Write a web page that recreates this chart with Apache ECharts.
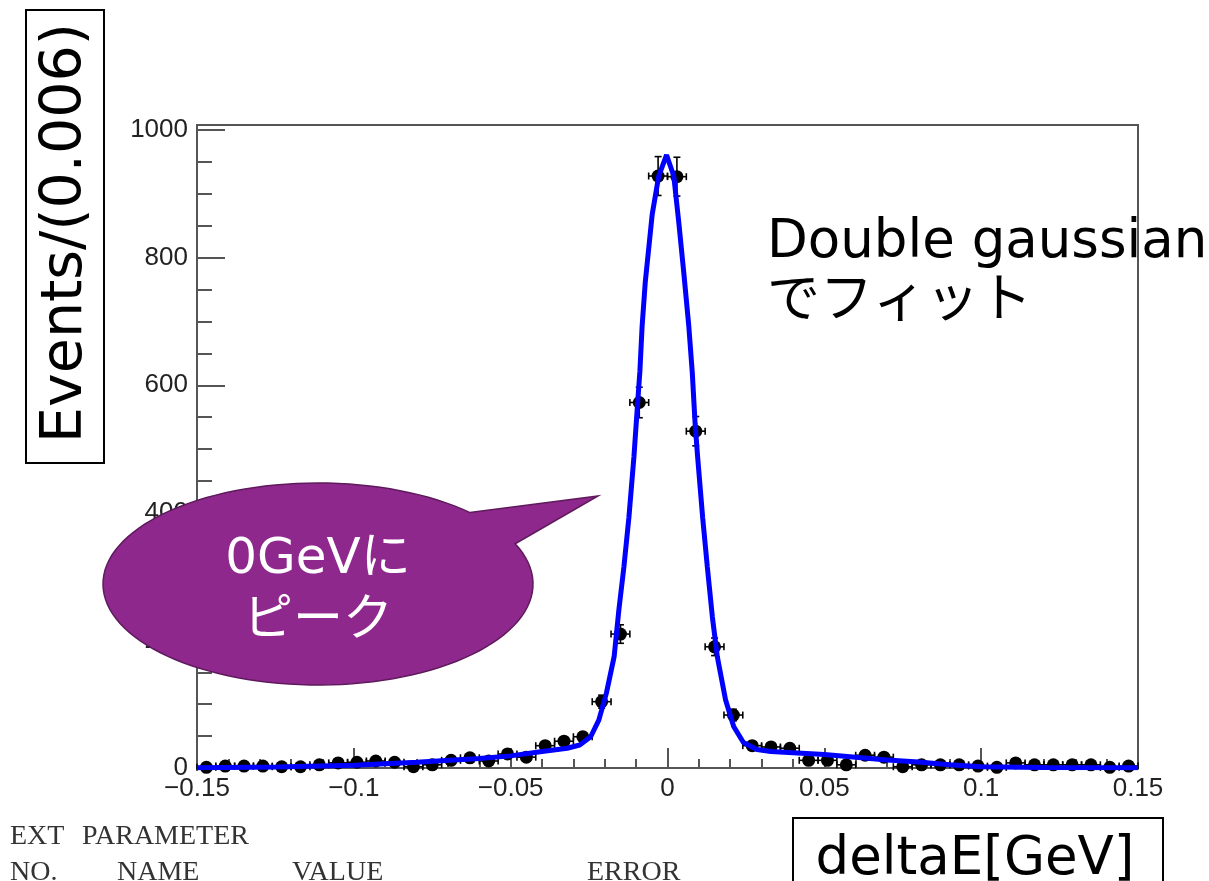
<!DOCTYPE html>
<html>
<head>
<meta charset="utf-8">
<script src="https://cdn.jsdelivr.net/npm/echarts@6/dist/echarts.min.js"></script>
<style>
  html, body { margin: 0; padding: 0; background: #fff; }
  #chart { width: 1209px; height: 881px; }
</style>
</head>
<body>
<div id="chart"></div>
<script>
// deltaE histogram: bin centres (GeV), bin width 0.006
const binCenters = [
  -0.147, -0.141, -0.135, -0.129, -0.123, -0.117, -0.111, -0.105, -0.099, -0.093,
  -0.087, -0.081, -0.075, -0.069, -0.063, -0.057, -0.051, -0.045, -0.039, -0.033,
  -0.027, -0.021, -0.015, -0.009, -0.003, 0.003, 0.009, 0.015, 0.021, 0.027,
  0.033, 0.039, 0.045, 0.051, 0.057, 0.063, 0.069, 0.075, 0.081, 0.087,
  0.093, 0.099, 0.105, 0.111, 0.117, 0.123, 0.129, 0.135, 0.141, 0.147
];
const binHalfWidth = 0.003;
// events per bin
const counts = [
  1, 3, 3, 3, 2, 2, 5, 8, 9, 11,
  9, 2, 5, 12, 16, 11, 22, 17, 35, 42,
  49, 104, 210, 573, 928, 927, 528, 190, 83, 35,
  33, 31, 12, 12, 5, 20, 17, 2, 5, 5,
  5, 3, 1, 8, 5, 5, 5, 5, 1, 3
];

// double gaussian fit curve, sampled along deltaE
const fitX = [
  -0.15, -0.125, -0.1, -0.08, -0.06, -0.05, -0.04, -0.032, -0.028, -0.0245,
  -0.0219, -0.0195, -0.017, -0.0155, -0.0139, -0.0123, -0.0107, -0.0096, -0.0088, -0.0081,
  -0.0071, -0.006, -0.0049, -0.0028, -0.0003, 0.002, 0.0036, 0.0052, 0.0068, 0.0079,
  0.0088, 0.0096, 0.0112, 0.0127, 0.0143, 0.0159, 0.0185, 0.0211, 0.0242, 0.0285,
  0.033, 0.04, 0.05, 0.06, 0.07, 0.08, 0.09, 0.1, 0.12, 0.15
];
const fitY = [
  0.5, 1.5, 4.5, 9, 15, 19, 26, 31, 36, 49,
  75, 117, 175, 248, 315, 393, 488, 567, 622, 692,
  761, 814, 867, 928, 961, 928, 855, 776, 692, 620,
  540, 488, 393, 315, 237, 174, 107, 65, 40, 29,
  26, 24, 21, 17, 12.5, 9.4, 5, 2, 0.8, 0.3
];

const xTicks = { min: -0.15, max: 0.15, step: 0.05 };
const yTicks = { min: 0, max: 1008, step: 200 };

const points = binCenters.map((x, i) => [x, counts[i]]);
const curve = fitX.map((x, i) => [x, fitY[i]]);

const axisGray = '#555';
const labelFont = 'Liberation Sans, Arial, sans-serif';
const bigFont = 'DejaVu Sans, Noto Sans CJK JP, sans-serif';
const tableFont = '28px Liberation Serif, Times New Roman, serif';

function fmtX(v) {
  const r = Math.round(v * 100) / 100;
  if (r === 0) return '0';
  return (r < 0 ? '\u2212' : '') + String(Math.abs(r));
}
function fmtY(v) {
  return String(Math.round(v));
}

// speech bubble outline: ellipse body with a pointed tail
function bubblePoints() {
  const cx = 318, cy = 584, rx = 215, ry = 101;
  const a0 = -23.5 * Math.PI / 180;
  const a1 = (360 - 45) * Math.PI / 180;
  const pts = [];
  const n = 120;
  for (let k = 0; k <= n; k++) {
    const a = a0 + (a1 - a0) * k / n;
    pts.push([cx + rx * Math.cos(a), cy + ry * Math.sin(a)]);
  }
  pts.push([598, 496]);
  return pts;
}

function plainText(x, y, text, font, fill, align) {
  return {
    type: 'text', z: 51, x: x, y: y,
    style: {
      text: text, font: font, fill: fill,
      textAlign: align, textVerticalAlign: 'middle', align: align, verticalAlign: 'middle'
    }
  };
}

const chart = echarts.init(document.getElementById('chart'));
chart.setOption({
  animation: false,
  backgroundColor: '#fff',
  grid: {
    left: 197, right: 71, top: 125, bottom: 113,
    show: true, borderColor: axisGray, borderWidth: 2, backgroundColor: 'transparent'
  },
  xAxis: {
    type: 'value', min: xTicks.min, max: xTicks.max, interval: xTicks.step,
    axisLine: { show: true, onZero: false, lineStyle: { color: axisGray, width: 2 } },
    axisTick: { show: true, inside: true, length: 20, lineStyle: { color: axisGray, width: 2 } },
    minorTick: { show: true, splitNumber: 5, length: 9, lineStyle: { color: axisGray, width: 2 } },
    splitLine: { show: false },
    axisLabel: { margin: 8, fontSize: 26, color: '#222', fontFamily: labelFont, formatter: fmtX }
  },
  yAxis: {
    type: 'value', min: yTicks.min, max: yTicks.max, interval: yTicks.step,
    axisLine: { show: true, onZero: false, lineStyle: { color: axisGray, width: 2 } },
    axisTick: { show: true, inside: true, length: 28, lineStyle: { color: axisGray, width: 2 } },
    minorTick: { show: true, splitNumber: 4, length: 15, lineStyle: { color: axisGray, width: 2 } },
    splitLine: { show: false },
    axisLabel: { margin: 9, fontSize: 26, color: '#222', fontFamily: labelFont, showMaxLabel: false, formatter: fmtY }
  },
  series: [
    {
      // error bars: bin width horizontally, sqrt(N) vertically
      type: 'custom',
      data: points,
      z: 3,
      renderItem: function (params, api) {
        const x = api.value(0), y = api.value(1);
        const err = Math.sqrt(y);
        const l = api.coord([x - binHalfWidth, y]);
        const r = api.coord([x + binHalfWidth, y]);
        const t = api.coord([x, y + err]);
        const b = api.coord([x, y - err]);
        const st = { stroke: '#000', lineWidth: 1.6 };
        const cap = 3.5;
        return {
          type: 'group',
          children: [
            { type: 'line', shape: { x1: l[0], y1: l[1], x2: r[0], y2: r[1] }, style: st },
            { type: 'line', shape: { x1: l[0], y1: l[1] - cap, x2: l[0], y2: l[1] + cap }, style: st },
            { type: 'line', shape: { x1: r[0], y1: r[1] - cap, x2: r[0], y2: r[1] + cap }, style: st },
            { type: 'line', shape: { x1: t[0], y1: t[1], x2: b[0], y2: b[1] }, style: st },
            { type: 'line', shape: { x1: t[0] - cap, y1: t[1], x2: t[0] + cap, y2: t[1] }, style: st },
            { type: 'line', shape: { x1: b[0] - cap, y1: b[1], x2: b[0] + cap, y2: b[1] }, style: st }
          ]
        };
      }
    },
    {
      type: 'scatter',
      data: points,
      symbol: 'circle',
      symbolSize: 13,
      itemStyle: { color: '#000', opacity: 1 },
      z: 4
    },
    {
      type: 'line',
      data: curve,
      showSymbol: false,
      smooth: false,
      lineStyle: { color: '#0000ff', width: 5 },
      z: 5
    }
  ],
  graphic: [
    // y-axis title box
    {
      type: 'rect', z: 50,
      shape: { x: 26, y: 10, width: 78, height: 453 },
      style: { fill: '#fff', stroke: '#000', lineWidth: 2 }
    },
    {
      type: 'text', z: 51, x: 66, y: 233, rotation: Math.PI / 2,
      style: {
        text: 'Events/(0.006)', font: '57px ' + bigFont, fill: '#000',
        textAlign: 'center', textVerticalAlign: 'middle', align: 'center', verticalAlign: 'middle'
      }
    },
    // fit annotation
    {
      type: 'text', z: 51, x: 767, y: 273,
      style: {
        text: 'Double gaussian\nでフィット', font: '53px ' + bigFont, fill: '#000', lineHeight: 60,
        textAlign: 'left', textVerticalAlign: 'middle', align: 'left', verticalAlign: 'middle'
      }
    },
    // speech bubble
    {
      type: 'polygon', z: 60,
      shape: { points: bubblePoints() },
      style: { fill: '#8f288d', stroke: '#5e1a5c', lineWidth: 1.5 }
    },
    {
      type: 'text', z: 61, x: 318, y: 591,
      style: {
        text: '0GeVに\nピーク', font: '50px ' + bigFont, fill: '#fff', lineHeight: 62,
        textAlign: 'center', textVerticalAlign: 'middle', align: 'center', verticalAlign: 'middle'
      }
    },
    // fit parameter table header
    plainText(10, 837, 'EXT', tableFont, '#333', 'left'),
    plainText(82, 837, 'PARAMETER', tableFont, '#333', 'left'),
    plainText(10, 873, 'NO.', tableFont, '#333', 'left'),
    plainText(117, 873, 'NAME', tableFont, '#333', 'left'),
    plainText(292, 873, 'VALUE', tableFont, '#333', 'left'),
    plainText(587, 873, 'ERROR', tableFont, '#333', 'left'),
    // x-axis title box
    {
      type: 'rect', z: 50,
      shape: { x: 793, y: 818, width: 370, height: 90 },
      style: { fill: '#fff', stroke: '#000', lineWidth: 2 }
    },
    {
      type: 'text', z: 51, x: 975, y: 860,
      style: {
        text: 'deltaE[GeV]', font: '53px ' + bigFont, fill: '#000',
        textAlign: 'center', textVerticalAlign: 'middle', align: 'center', verticalAlign: 'middle'
      }
    }
  ]
});
</script>
</body>
</html>
